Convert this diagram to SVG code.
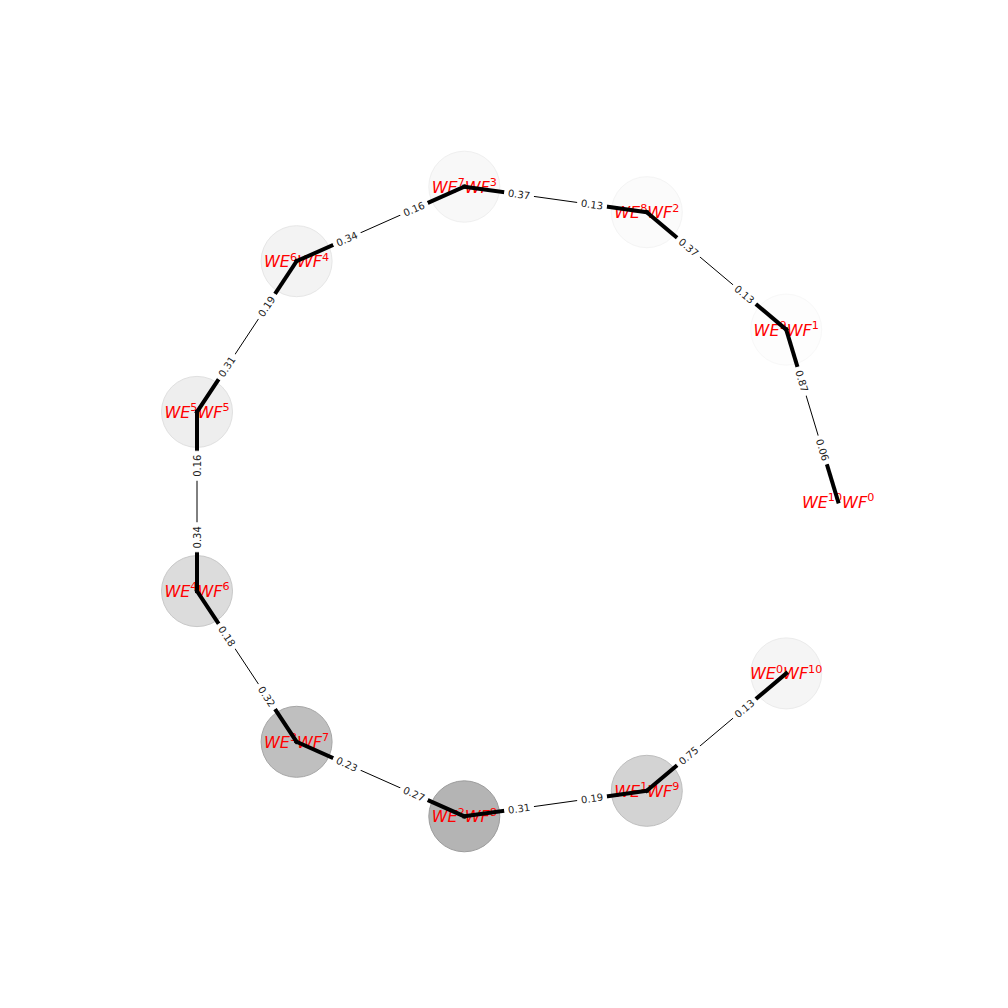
<svg xmlns="http://www.w3.org/2000/svg" width="1008" height="1008" viewBox="0 0 1008 1008">
<style>
.nd{stroke-width:1}
.nl{font-family:"DejaVu Sans",sans-serif;font-size:16px;fill:#ff0000;text-anchor:middle}
.it{font-style:italic}
.sp{font-size:11.2px;font-style:normal}
.thin{stroke:#000;stroke-width:1;fill:none}
.thick{stroke:#000;stroke-width:4;stroke-linecap:square;fill:none}
.lb rect{fill:#fff;stroke:#fff}
.lb text{font-family:"DejaVu Sans",sans-serif;font-size:10px;fill:#222;text-anchor:middle}
</style>
<rect width="1008" height="1008" fill="#fff"/>
<g id="nodes">
<g id="n0"><circle class="nd" cx="838.1" cy="501.5" r="35.5" fill="#fff" stroke="#fff"/></g>
<g id="n1"><circle class="nd" cx="786.2" cy="329.6" r="35.5" fill="#fdfdfd" stroke="#f8f8f8"/></g>
<g id="n2"><circle class="nd" cx="646.8" cy="212.2" r="35.5" fill="#fbfbfb" stroke="#f4f4f4"/></g>
<g id="n3"><circle class="nd" cx="464.3" cy="186.7" r="35.5" fill="#f8f8f8" stroke="#efefef"/></g>
<g id="n4"><circle class="nd" cx="296.6" cy="261.2" r="35.5" fill="#f3f3f3" stroke="#e6e6e6"/></g>
<g id="n5"><circle class="nd" cx="197" cy="411.9" r="35.5" fill="#eeeeee" stroke="#e0e0e0"/></g>
<g id="n6"><circle class="nd" cx="197" cy="591.1" r="35.5" fill="#dcdcdc" stroke="#c8c8c8"/></g>
<g id="n7"><circle class="nd" cx="296.6" cy="741.8" r="35.5" fill="#bfbfbf" stroke="#a6a6a6"/></g>
<g id="n8"><circle class="nd" cx="464.3" cy="816.3" r="35.5" fill="#b4b4b4" stroke="#9c9c9c"/></g>
<g id="n9"><circle class="nd" cx="646.8" cy="790.8" r="35.5" fill="#d3d3d3" stroke="#bebebe"/></g>
<g id="n10"><circle class="nd" cx="786.2" cy="673.4" r="35.5" fill="#f5f5f5" stroke="#ebebeb"/></g>
</g>
<g id="node-labels">
<text class="nl" x="838.1" y="507.5"><tspan class="it">WE</tspan><tspan class="sp" dy="-6.7">10</tspan><tspan class="it" dy="6.7">WF</tspan><tspan class="sp" dy="-6.7">0</tspan></text>
<text class="nl" x="786.2" y="335.6"><tspan class="it">WE</tspan><tspan class="sp" dy="-6.7">9</tspan><tspan class="it" dy="6.7">WF</tspan><tspan class="sp" dy="-6.7">1</tspan></text>
<text class="nl" x="646.8" y="218.2"><tspan class="it">WE</tspan><tspan class="sp" dy="-6.7">8</tspan><tspan class="it" dy="6.7">WF</tspan><tspan class="sp" dy="-6.7">2</tspan></text>
<text class="nl" x="464.3" y="192.7"><tspan class="it">WE</tspan><tspan class="sp" dy="-6.7">7</tspan><tspan class="it" dy="6.7">WF</tspan><tspan class="sp" dy="-6.7">3</tspan></text>
<text class="nl" x="296.6" y="267.2"><tspan class="it">WE</tspan><tspan class="sp" dy="-6.7">6</tspan><tspan class="it" dy="6.7">WF</tspan><tspan class="sp" dy="-6.7">4</tspan></text>
<text class="nl" x="197" y="417.9"><tspan class="it">WE</tspan><tspan class="sp" dy="-6.7">5</tspan><tspan class="it" dy="6.7">WF</tspan><tspan class="sp" dy="-6.7">5</tspan></text>
<text class="nl" x="197" y="597.1"><tspan class="it">WE</tspan><tspan class="sp" dy="-6.7">4</tspan><tspan class="it" dy="6.7">WF</tspan><tspan class="sp" dy="-6.7">6</tspan></text>
<text class="nl" x="296.6" y="747.8"><tspan class="it">WE</tspan><tspan class="sp" dy="-6.7">3</tspan><tspan class="it" dy="6.7">WF</tspan><tspan class="sp" dy="-6.7">7</tspan></text>
<text class="nl" x="464.3" y="822.3"><tspan class="it">WE</tspan><tspan class="sp" dy="-6.7">2</tspan><tspan class="it" dy="6.7">WF</tspan><tspan class="sp" dy="-6.7">8</tspan></text>
<text class="nl" x="646.8" y="796.8"><tspan class="it">WE</tspan><tspan class="sp" dy="-6.7">1</tspan><tspan class="it" dy="6.7">WF</tspan><tspan class="sp" dy="-6.7">9</tspan></text>
<text class="nl" x="786.2" y="679.4"><tspan class="it">WE</tspan><tspan class="sp" dy="-6.7">0</tspan><tspan class="it" dy="6.7">WF</tspan><tspan class="sp" dy="-6.7">10</tspan></text>
</g>
<g id="edges">
<line class="thin" x1="838.1" y1="501.5" x2="786.2" y2="329.6"/>
<line class="thin" x1="786.2" y1="329.6" x2="646.8" y2="212.2"/>
<line class="thin" x1="646.8" y1="212.2" x2="464.3" y2="186.7"/>
<line class="thin" x1="464.3" y1="186.7" x2="296.6" y2="261.2"/>
<line class="thin" x1="296.6" y1="261.2" x2="197" y2="411.9"/>
<line class="thin" x1="197" y1="411.9" x2="197" y2="591.1"/>
<line class="thin" x1="197" y1="591.1" x2="296.6" y2="741.8"/>
<line class="thin" x1="296.6" y1="741.8" x2="464.3" y2="816.3"/>
<line class="thin" x1="464.3" y1="816.3" x2="646.8" y2="790.8"/>
<line class="thin" x1="646.8" y1="790.8" x2="786.2" y2="673.4"/>
<line class="thick" x1="838.1" y1="501.5" x2="822.5" y2="449.9"/>
<line class="thick" x1="786.2" y1="329.6" x2="801.8" y2="381.2"/>
<line class="thick" x1="786.2" y1="329.6" x2="744.4" y2="294.4"/>
<line class="thick" x1="646.8" y1="212.2" x2="688.6" y2="247.4"/>
<line class="thick" x1="646.8" y1="212.2" x2="592.05" y2="204.55"/>
<line class="thick" x1="464.3" y1="186.7" x2="519.05" y2="194.35"/>
<line class="thick" x1="464.3" y1="186.7" x2="414" y2="209.05"/>
<line class="thick" x1="296.6" y1="261.2" x2="346.9" y2="238.85"/>
<line class="thick" x1="296.6" y1="261.2" x2="266.7" y2="306.4"/>
<line class="thick" x1="197" y1="411.9" x2="226.9" y2="366.7"/>
<line class="thick" x1="197" y1="411.9" x2="197" y2="465.7"/>
<line class="thick" x1="197" y1="591.1" x2="197" y2="537.3"/>
<line class="thick" x1="197" y1="591.1" x2="226.9" y2="636.3"/>
<line class="thick" x1="296.6" y1="741.8" x2="266.7" y2="696.6"/>
<line class="thick" x1="296.6" y1="741.8" x2="346.9" y2="764.2"/>
<line class="thick" x1="464.3" y1="816.3" x2="414" y2="793.95"/>
<line class="thick" x1="464.3" y1="816.3" x2="519.05" y2="808.65"/>
<line class="thick" x1="646.8" y1="790.8" x2="592.05" y2="798.45"/>
<line class="thick" x1="646.8" y1="790.8" x2="688.6" y2="755.6"/>
<line class="thick" x1="786.2" y1="673.4" x2="744.4" y2="708.6"/>
</g>
<g id="edge-labels">
<g class="lb" transform="translate(822.5,449.9) rotate(73.2)"><rect x="-14.5" y="-8" width="29" height="16" rx="4"/><text y="3.6">0.06</text></g>
<g class="lb" transform="translate(801.8,381.2) rotate(73.2)"><rect x="-14.5" y="-8" width="29" height="16" rx="4"/><text y="3.6">0.87</text></g>
<g class="lb" transform="translate(744.4,294.4) rotate(40.1)"><rect x="-14.5" y="-8" width="29" height="16" rx="4"/><text y="3.6">0.13</text></g>
<g class="lb" transform="translate(688.6,247.4) rotate(40.1)"><rect x="-14.5" y="-8" width="29" height="16" rx="4"/><text y="3.6">0.37</text></g>
<g class="lb" transform="translate(592.05,204.55) rotate(7.95)"><rect x="-14.5" y="-8" width="29" height="16" rx="4"/><text y="3.6">0.13</text></g>
<g class="lb" transform="translate(519.05,194.35) rotate(7.95)"><rect x="-14.5" y="-8" width="29" height="16" rx="4"/><text y="3.6">0.37</text></g>
<g class="lb" transform="translate(414,209.05) rotate(-24)"><rect x="-14.5" y="-8" width="29" height="16" rx="4"/><text y="3.6">0.16</text></g>
<g class="lb" transform="translate(346.9,238.85) rotate(-24)"><rect x="-14.5" y="-8" width="29" height="16" rx="4"/><text y="3.6">0.34</text></g>
<g class="lb" transform="translate(266.7,306.4) rotate(-56.5)"><rect x="-14.5" y="-8" width="29" height="16" rx="4"/><text y="3.6">0.19</text></g>
<g class="lb" transform="translate(226.9,366.7) rotate(-56.5)"><rect x="-14.5" y="-8" width="29" height="16" rx="4"/><text y="3.6">0.31</text></g>
<g class="lb" transform="translate(197,465.7) rotate(-90)"><rect x="-14.5" y="-8" width="29" height="16" rx="4"/><text y="3.6">0.16</text></g>
<g class="lb" transform="translate(197,537.3) rotate(-90)"><rect x="-14.5" y="-8" width="29" height="16" rx="4"/><text y="3.6">0.34</text></g>
<g class="lb" transform="translate(226.9,636.3) rotate(56.5)"><rect x="-14.5" y="-8" width="29" height="16" rx="4"/><text y="3.6">0.18</text></g>
<g class="lb" transform="translate(266.7,696.6) rotate(56.5)"><rect x="-14.5" y="-8" width="29" height="16" rx="4"/><text y="3.6">0.32</text></g>
<g class="lb" transform="translate(346.9,764.2) rotate(24)"><rect x="-14.5" y="-8" width="29" height="16" rx="4"/><text y="3.6">0.23</text></g>
<g class="lb" transform="translate(414,793.95) rotate(24)"><rect x="-14.5" y="-8" width="29" height="16" rx="4"/><text y="3.6">0.27</text></g>
<g class="lb" transform="translate(519.05,808.65) rotate(-7.95)"><rect x="-14.5" y="-8" width="29" height="16" rx="4"/><text y="3.6">0.31</text></g>
<g class="lb" transform="translate(592.05,798.45) rotate(-7.95)"><rect x="-14.5" y="-8" width="29" height="16" rx="4"/><text y="3.6">0.19</text></g>
<g class="lb" transform="translate(688.6,755.6) rotate(-40.1)"><rect x="-14.5" y="-8" width="29" height="16" rx="4"/><text y="3.6">0.75</text></g>
<g class="lb" transform="translate(744.4,708.6) rotate(-40.1)"><rect x="-14.5" y="-8" width="29" height="16" rx="4"/><text y="3.6">0.13</text></g>
</g>
</svg>
